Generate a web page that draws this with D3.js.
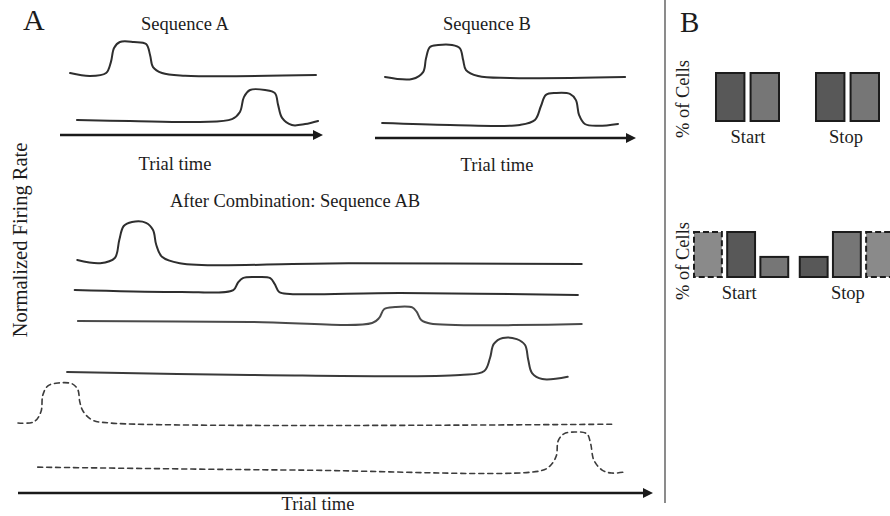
<!DOCTYPE html>
<html>
<head>
<meta charset="utf-8">
<script src="https://cdn.jsdelivr.net/npm/d3@7"></script>
<style>
  html, body { margin: 0; background: #fff; }
  svg { display: block; }
</style>
</head>
<body>
<svg id="fig" width="890" height="516"></svg>
<script>
// ---- Firing-rate traces: [trial time (0-100), normalized rate (0 = baseline, 1 = peak)] ----
const seqA1 = [[3.8,0.06],[11.3,-0.03],[17.4,0.06],[19.2,0.39],[20.4,0.82],[22.6,1.0],[27.9,1.0],[32.5,0.94],[34.0,0.6],[35.1,0.24],[38.5,0.06],[47.2,-0.02],[96.6,0]];
const seqA2 = [[6.4,0.03],[26.4,0],[52.8,-0.03],[64.9,0.06],[67.9,0.29],[69.4,0.77],[71.7,1.0],[77.4,1.0],[81.1,0.9],[82.3,0.52],[83.8,0.1],[87.5,-0.13],[92.5,-0.1],[97.4,0]];
const seqB1 = [[3.8,0.03],[14.1,-0.03],[18.3,0.18],[19.4,0.6],[20.9,0.94],[24.0,1.0],[29.3,1.0],[32.3,0.9],[33.5,0.55],[34.6,0.24],[39.2,0.06],[51.3,0],[95.1,0.03]];
const seqB2 = [[2.7,0.03],[28.5,-0.03],[55.1,-0.03],[60.8,0.13],[63.1,0.58],[65.0,0.94],[68.8,1.0],[74.1,0.97],[76.4,0.77],[77.6,0.29],[79.8,0],[84.8,-0.06],[92.4,0]];
const seqAB1 = [[9.3,0.05],[12.9,-0.03],[15.2,0.1],[15.9,0.55],[16.6,0.9],[17.9,1.0],[20.1,0.98],[21.2,0.8],[21.7,0.43],[22.6,0.13],[25.4,-0.03],[52.1,-0.03],[88.5,-0.05]];
const seqAB2 = [[8.9,0.13],[25.4,0],[33.8,0.13],[34.5,0.6],[35.3,0.93],[37.4,1.0],[39.6,0.93],[40.3,0.53],[41.0,0],[42.7,-0.13],[60.0,-0.07],[87.9,-0.2]];
const seqAB3 = [[9.4,0.07],[36.4,0],[55.6,-0.07],[56.7,0.27],[57.5,0.87],[59.2,1.0],[61.9,0.97],[62.6,0.67],[63.3,0.13],[64.7,-0.1],[88.5,-0.13]];
const seqAB4 = [[7.7,0.08],[36.4,0],[69.4,0],[73.2,0.11],[74.1,0.46],[74.7,0.84],[76.1,1.0],[78.3,0.97],[79.6,0.81],[80.1,0.41],[80.7,0.05],[82.3,-0.11],[86.3,-0.05]];
const lostStart = [[0,0],[2.5,0.03],[3.6,0.28],[3.9,0.7],[4.7,0.93],[6.3,1.0],[8.5,0.98],[9.4,0.83],[9.7,0.53],[10.2,0.3],[11.6,0.08],[14.4,0],[93.4,-0.03]];
const lostStop = [[3.1,0.05],[44.3,-0.03],[82.0,-0.05],[83.5,0.08],[84.5,0.35],[84.8,0.76],[85.7,0.95],[87.4,1.0],[89.3,0.95],[89.9,0.68],[90.4,0.24],[91.7,-0.03],[93.2,-0.11],[95.3,-0.08]];

// ---- Panel B: share of start / stop cells ----
const phases = ["Start", "Stop"];
const cellTypesBefore = { Start: ["A", "B"], Stop: ["A", "B"] };
const cellsBefore = { Start: [1, 1], Stop: [1, 1] };
const cellTypesAfter = { Start: ["lost", "A", "B"], Stop: ["A", "B", "lost"] };
const cellsAfter = { Start: [1, 1, 0.47], Stop: [0.47, 1, 1] };

// ---- Text ----
const panelLetters = ["A", "B"];
const seqTitles = ["Sequence A", "Sequence B", "After Combination: Sequence AB"];
const timeLabel = "Trial time";
const rateLabel = "Normalized Firing Rate";
const cellsLabel = "% of Cells";

const serif = "'Liberation Serif', 'Times New Roman', Times, serif";
const svg = d3.select("#fig");
const ink = "#1c1c1c";

svg.append("defs").append("marker")
  .attr("id", "arrowhead")
  .attr("viewBox", "0 0 10 10")
  .attr("refX", 2).attr("refY", 5)
  .attr("markerWidth", 12).attr("markerHeight", 10)
  .attr("markerUnits", "userSpaceOnUse")
  .attr("orient", "auto")
  .append("path").attr("d", "M0,0L10,5L0,10Z").attr("fill", "#1a1a1a");

// Each panel: a time axis (arrow) and a stack of traces, each row with its own rate scale
const panels = [
  { range: [60, 325], axisY: 135, rows: [
      { data: seqA1, base: 75, peak: 42 },
      { data: seqA2, base: 121, peak: 90 } ] },
  { range: [375, 638], axisY: 138, rows: [
      { data: seqB1, base: 78, peak: 45 },
      { data: seqB2, base: 124, peak: 93 } ] },
  { range: [18, 655], axisY: 493, rows: [
      { data: seqAB1, base: 262, peak: 222 },
      { data: seqAB2, base: 292, peak: 277 },
      { data: seqAB3, base: 322, peak: 307, color: "#4a4a4a" },
      { data: seqAB4, base: 375, peak: 338, color: "#3a3a3a" },
      { data: lostStart, base: 423, peak: 383, dashed: true },
      { data: lostStop, base: 469, peak: 432, dashed: true } ] }
];

panels.forEach(p => {
  const x = d3.scaleLinear().domain([0, 100]).range(p.range);
  const g = svg.append("g");
  p.rows.forEach(row => {
    const y = d3.scaleLinear().domain([0, 1]).range([row.base, row.peak]);
    const line = d3.line().x(d => x(d[0])).y(d => y(d[1])).curve(d3.curveCatmullRom.alpha(0.5));
    g.append("path")
      .attr("d", line(row.data))
      .attr("fill", "none")
      .attr("stroke", row.color || (row.dashed ? "#3c3c3c" : "#2e2e2e"))
      .attr("stroke-width", row.dashed ? 1.6 : 2)
      .attr("stroke-dasharray", row.dashed ? "5,4" : null)
      .attr("stroke-linejoin", "round")
      .attr("stroke-linecap", "round");
  });
  const [x0, x1] = x.range();
  g.append("line")
    .attr("x1", x0).attr("x2", x1 - 10)
    .attr("y1", p.axisY).attr("y2", p.axisY)
    .attr("stroke", "#1a1a1a").attr("stroke-width", 2.6)
    .attr("marker-end", "url(#arrowhead)");
});

// Titles and axis labels
function label(x, y, txt, size, anchor) {
  return svg.append("text").attr("x", x).attr("y", y)
    .attr("text-anchor", anchor || "middle")
    .style("font-family", serif).attr("fill", ink).attr("font-size", size).text(txt);
}
label(185, 30, seqTitles[0], 18.5);
label(487, 30, seqTitles[1], 18.5);
label(295, 207, seqTitles[2], 18.5);
label(175, 170, timeLabel, 18.5);
label(497, 171, timeLabel, 18.5);
label(318, 510, timeLabel, 18.5);
label(0, 0, rateLabel, 20.5).attr("transform", "translate(27,240) rotate(-90)");
label(23, 30, panelLetters[0], 30, "start");
label(680, 32, panelLetters[1], 29, "start");

// Divider between panels
svg.append("line").attr("x1", 665).attr("x2", 665).attr("y1", 0).attr("y2", 503)
  .attr("stroke", "#6f6f6f").attr("stroke-width", 1.6);

// ---- Panel B bar charts ----
const cellFill = { A: "#585858", B: "#767676", lost: "#8a8a8a" };

function barChart(types, values, opts) {
  const outer = d3.scaleBand().domain(phases).range(opts.range).paddingInner(opts.groupPad);
  const y = d3.scaleLinear().domain([0, 1]).range([opts.base, opts.top]);
  const g = svg.append("g");
  phases.forEach(ph => {
    const inner = d3.scaleBand().domain(d3.range(values[ph].length))
      .range([outer(ph), outer(ph) + outer.bandwidth()]).paddingInner(opts.barPad);
    values[ph].forEach((v, i) => {
      const kind = types[ph][i];
      g.append("rect")
        .attr("x", inner(i) + 1).attr("y", y(v) + 1)
        .attr("width", inner.bandwidth() - 2).attr("height", y(0) - y(v) - 2)
        .attr("fill", cellFill[kind])
        .attr("stroke", "#1c1c1c").attr("stroke-width", 2)
        .attr("stroke-dasharray", kind === "lost" ? "6,3" : null);
    });
    label(outer(ph) + outer.bandwidth() / 2 + (opts.labelShift[ph] || 0), opts.labelY, ph, 18.5);
  });
  label(0, 0, cellsLabel, 18.5).attr("transform", `translate(689,${opts.ylabelY}) rotate(-90)`);
}

barChart(cellTypesBefore, cellsBefore, {
  range: [715, 880], groupPad: 0.35, barPad: 0.12, base: 122, top: 72,
  labelY: 143, ylabelY: 99, labelShift: { Start: 0.5, Stop: -1.5 }
});
barChart(cellTypesAfter, cellsAfter, {
  range: [693, 895], groupPad: 0.09, barPad: 0.1, base: 278, top: 231,
  labelY: 299, ylabelY: 261, labelShift: { Start: -2, Stop: 1 }
});
</script>
</body>
</html>
